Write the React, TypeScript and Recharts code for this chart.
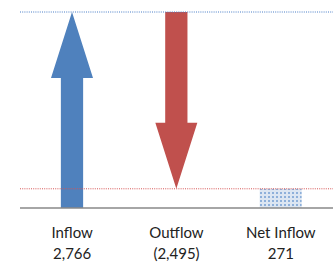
import * as React from "react";
import { BarChart, Bar, XAxis, YAxis, ReferenceLine } from "recharts";

const categories = ["Inflow", "Outflow", "Net Inflow"];
const flows = [2766, -2495, 271];

const BLUE = "#4F81BD";
const RED = "#C0504D";

// each mark spans from where the running total was to where it ends up
let running = 0;
const data = categories.map((name, i) => {
  const value = flows[i];
  const isTotal = i === categories.length - 1;
  let range: [number, number];
  if (isTotal) {
    range = [0, value];
  } else {
    const next = running + value;
    range = [Math.min(running, next), Math.max(running, next)];
    running = next;
  }
  return { name, value, range, kind: isTotal ? "total" : value >= 0 ? "up" : "down" };
});

const fmt = (v: number) => {
  const s = Math.abs(v).toLocaleString("en-US");
  return v < 0 ? `(${s})` : s;
};

function FlowShape(props: any) {
  const { x, y, width, height, payload } = props;
  const top = Math.min(y, y + height);
  const h = Math.abs(height);
  const cx = x + width / 2;
  const shaft = width * 0.53;
  const head = 66;

  if (payload.kind === "total") {
    return <rect x={x} y={top} width={width} height={h} fill="url(#netDots)" />;
  }
  if (payload.kind === "up") {
    const pts = [
      [cx, top],
      [x + width, top + head],
      [cx + shaft / 2, top + head],
      [cx + shaft / 2, top + h],
      [cx - shaft / 2, top + h],
      [cx - shaft / 2, top + head],
      [x, top + head],
    ];
    return <polygon points={pts.map((p) => p.join(",")).join(" ")} fill={BLUE} />;
  }
  const bottom = top + h;
  const pts = [
    [cx - shaft / 2, top],
    [cx + shaft / 2, top],
    [cx + shaft / 2, bottom - head],
    [x + width, bottom - head],
    [cx, bottom],
    [x, bottom - head],
    [cx - shaft / 2, bottom - head],
  ];
  return <polygon points={pts.map((p) => p.join(",")).join(" ")} fill={RED} />;
}

function FlowTick(props: any) {
  const { x, y, payload } = props;
  const row = data[payload.index];
  return (
    <text x={x} textAnchor="middle" fill="#222" fontSize={15} fontFamily="Lato, 'Open Sans', sans-serif">
      <tspan x={x} y={y + 30}>{payload.value}</tspan>
      <tspan x={x} y={y + 51}>{row ? fmt(row.value) : ""}</tspan>
    </text>
  );
}

export default function App() {
  return (
    <div style={{ position: "fixed", left: 0, top: 0, width: 336, height: 262, background: "#fff" }}>
      <BarChart width={336} height={262} data={data} margin={{ top: 12, right: 3, left: 20, bottom: 4 }} barSize={42}>
        <defs>
          <pattern id="netDots" width="4" height="4" patternUnits="userSpaceOnUse">
            <rect width="4" height="4" fill="#dce6f2" />
            <rect width="2" height="2" fill="#8eb0da" />
          </pattern>
        </defs>
        <XAxis
          dataKey="name"
          height={50}
          tickLine={false}
          tickSize={0}
          tickMargin={0}
          interval={0}
          axisLine={{ stroke: "#888", strokeWidth: 1.5 }}
          tick={<FlowTick />}
        />
        <YAxis hide domain={[0, 2766]} />
        <ReferenceLine y={flows[0]} stroke="#4a7ec7" strokeDasharray="1 1.2" />
        <ReferenceLine y={flows[2]} stroke="#d65555" strokeDasharray="1 1.2" />
        <Bar dataKey="range" shape={<FlowShape />} isAnimationActive={false} />
      </BarChart>
    </div>
  );
}
